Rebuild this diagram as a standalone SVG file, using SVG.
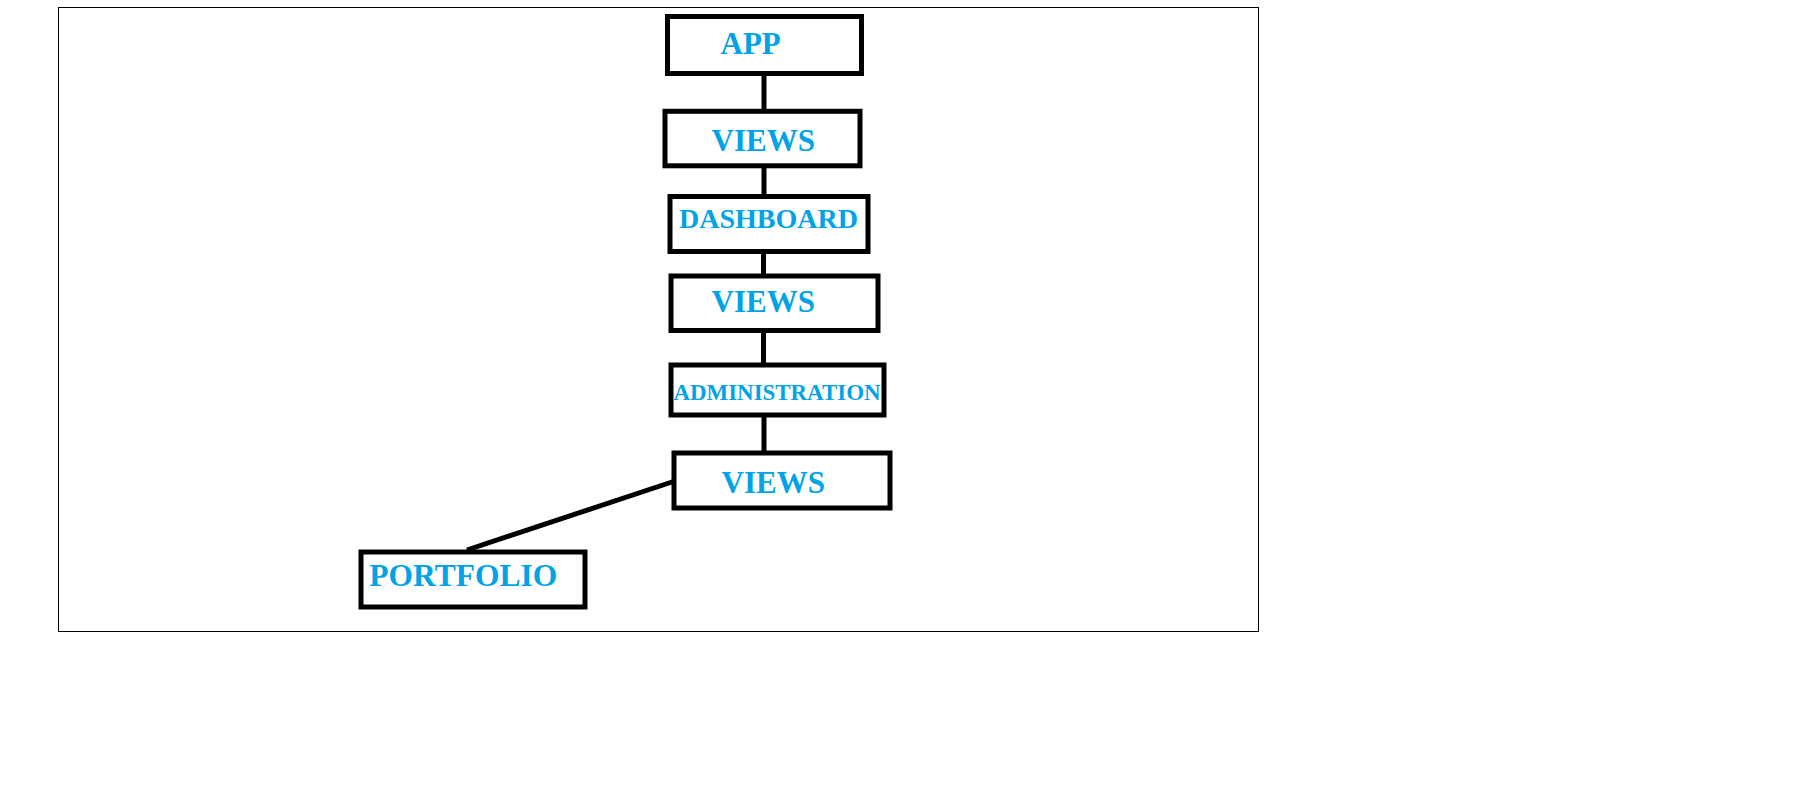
<svg xmlns="http://www.w3.org/2000/svg" width="1801" height="803" viewBox="0 0 1801 803">
<style>
.frame{fill:none;stroke:#000;stroke-width:1}
.box{fill:#fff;stroke:#000;stroke-width:5}
.lbl{font-family:"Liberation Serif","Times New Roman",serif;font-weight:bold;fill:#00A2E8}
.conn{stroke:#000;stroke-width:5;fill:none}
</style>
<rect x="0" y="0" width="1801" height="803" fill="#fff"/>
<rect class="frame" x="58.5" y="7.5" width="1200" height="624"/>
<g id="connectors">
<line class="conn" x1="764" y1="74" x2="764" y2="111"/>
<line class="conn" x1="764" y1="166" x2="764" y2="197"/>
<line class="conn" x1="763.5" y1="252" x2="763.5" y2="276"/>
<line class="conn" x1="763.5" y1="330" x2="763.5" y2="365"/>
<line class="conn" x1="764" y1="415" x2="764" y2="453"/>
<line class="conn" x1="675" y1="481" x2="467" y2="550"/>
</g>
<g id="app">
<rect class="box" x="667.5" y="16.5" width="194" height="57"/>
<text class="lbl" x="720.5" y="54" font-size="31">APP</text>
</g>
<g id="views1">
<rect class="box" x="665" y="111.3" width="195" height="54.5"/>
<text class="lbl" x="711.5" y="150.7" font-size="31">VIEWS</text>
</g>
<g id="dashboard">
<rect class="box" x="670" y="196.5" width="198" height="55"/>
<text class="lbl" x="679" y="227.7" font-size="28">DASHBOARD</text>
</g>
<g id="views2">
<rect class="box" x="671" y="276" width="207" height="54.5"/>
<text class="lbl" x="711.5" y="312.3" font-size="31">VIEWS</text>
</g>
<g id="administration">
<rect class="box" x="671" y="365" width="213" height="50"/>
<text class="lbl" x="673.5" y="400" font-size="22.7" textLength="207" lengthAdjust="spacingAndGlyphs">ADMINISTRATION</text>
</g>
<g id="views3">
<rect class="box" x="674" y="453" width="216" height="55"/>
<text class="lbl" x="721.5" y="493.3" font-size="31">VIEWS</text>
</g>
<g id="portfolio">
<rect class="box" x="361" y="552" width="224" height="55"/>
<text class="lbl" x="369.3" y="586" font-size="31.5">PORTFOLIO</text>
</g>
</svg>
